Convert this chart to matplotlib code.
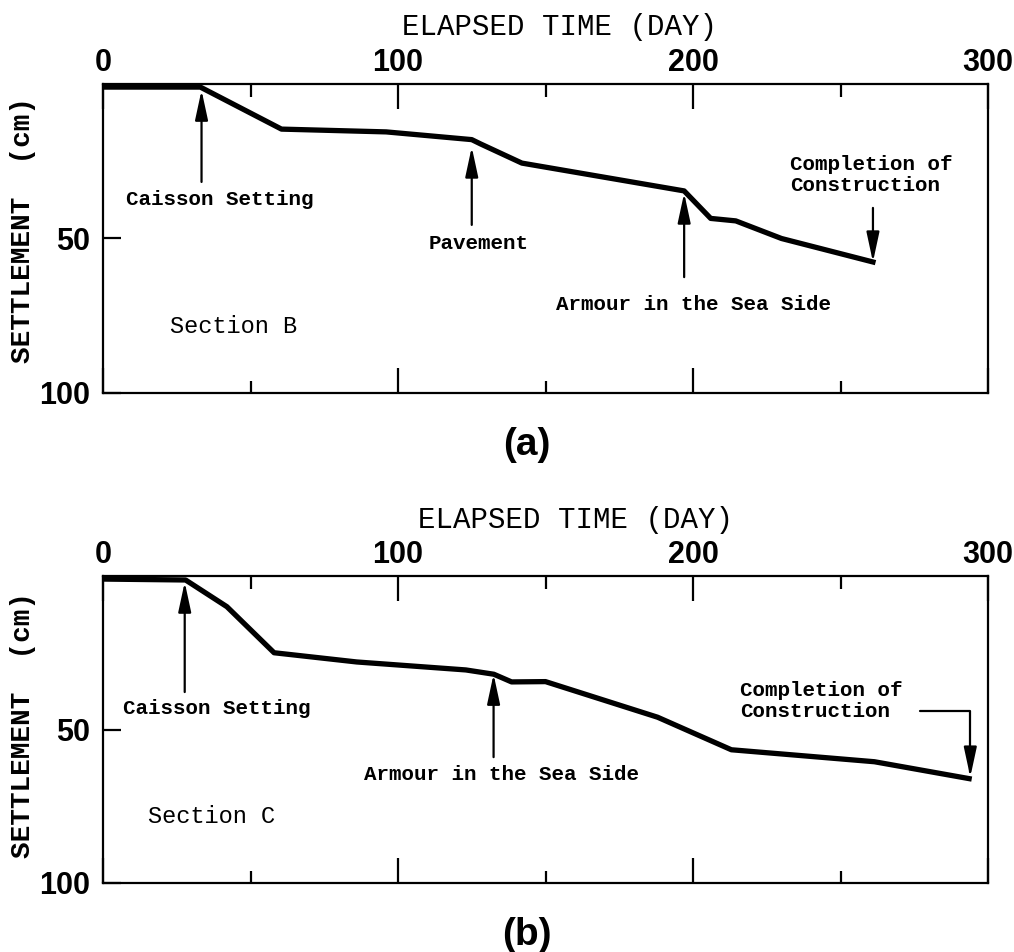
"""
Settlement vs elapsed time, sections B and C.
"""

import matplotlib
matplotlib.use("Agg")
import matplotlib.pyplot as plt


# (a) Section B
days_a = [0, 33, 60.5, 96, 125, 128, 142, 197, 206, 214.5, 230, 261]
settle_a = [1, 1, 14.6, 15.5, 18, 19.4, 25.6, 34.6, 43.5, 44.3, 50, 57.6]

# (b) Section C
days_b = [0, 28, 42, 58, 86, 123, 132.5, 138.5, 150, 188, 213, 261.5, 293.6]
settle_b = [1, 1.3, 10, 25, 28, 30.6, 32, 34.5, 34.4, 46, 56.6, 60.5, 66]

x_ticks = [0, 100, 200, 300]
x_minor = [50, 150, 250]
y_ticks = [50, 100]

W, H = 1014, 952
MONO = "Liberation Mono"
SANS = "Liberation Sans"
TICKFONT = dict(fontfamily=SANS, fontweight="bold", fontsize=22)


def px(x, y):
    return x / W, 1 - y / H


def make_axes(fig, top, bottom):
    ax = fig.add_axes([103 / W, 1 - bottom / H, (988 - 103) / W, (bottom - top) / H])
    ax.set_xlim(0, 300)
    ax.set_ylim(100, 0)
    for s in ax.spines.values():
        s.set_linewidth(1.6)
    ax.set_xticks(x_ticks, labels=[str(v) for v in x_ticks], **TICKFONT)
    ax.set_xticks(x_minor, minor=True)
    ax.set_yticks(y_ticks, labels=[str(v) for v in y_ticks], **TICKFONT)
    ax.tick_params(axis="x", which="major", direction="in", top=True, bottom=True,
                   labeltop=True, labelbottom=False, length=18, width=1.6, pad=4)
    ax.tick_params(axis="x", which="minor", direction="in", top=True, bottom=True,
                   length=9, width=1.6)
    ax.tick_params(axis="y", direction="in", left=True, right=False, length=13,
                   width=1.6, pad=9)
    return ax


def arrow(ax, x, y_tail, y_tip):
    ax.annotate("", xy=(x, y_tip), xytext=(x, y_tail),
                arrowprops=dict(arrowstyle="-|>,head_length=1.3,head_width=0.28",
                                color="black", lw=1.6, mutation_scale=14,
                                shrinkA=0, shrinkB=0))


def note(ax, x, y, s, size=15, weight="bold"):
    ax.text(x, y, s, ha="left", va="center", fontfamily=MONO, fontweight=weight,
            fontsize=size, linespacing=1.15)


fig = plt.figure(figsize=(W / 100, H / 100), dpi=100)

# ---- panel (a)
ax1 = make_axes(fig, 84, 393)
ax1.plot(days_a, settle_a, color="black", lw=3.8, solid_joinstyle="round")
arrow(ax1, 33.4, 31.7, 2)
arrow(ax1, 125, 45.6, 20.4)
arrow(ax1, 197, 62.5, 35.3)
arrow(ax1, 261, 40.1, 57.6)
note(ax1, 7.8, 37.5, "Caisson Setting")
note(ax1, 110.5, 51.5, "Pavement")
note(ax1, 153.4, 71.5, "Armour in the Sea Side")
note(ax1, 232.8, 29.5, "Completion of\nConstruction")
note(ax1, 22.6, 78.6, "Section B", size=17, weight="normal")

fig.text(*px(560, 27), "ELAPSED TIME (DAY)", ha="center", va="center",
         fontfamily=MONO, fontsize=21)
fig.text(*px(23, 230), "SETTLEMENT  (cm)", ha="center", va="center", rotation=90,
         fontfamily=MONO, fontweight="bold", fontsize=20)
fig.text(*px(527, 445), "(a)", ha="center", va="center", fontfamily=SANS,
         fontweight="bold", fontsize=28)

# ---- panel (b)
ax2 = make_axes(fig, 576, 883)
ax2.plot(days_b, settle_b, color="black", lw=3.8, solid_joinstyle="round")
arrow(ax2, 27.7, 37.8, 2)
arrow(ax2, 132.4, 59, 32)
ax2.annotate("", xy=(294, 65.5), xytext=(277, 44),
             arrowprops=dict(arrowstyle="-|>,head_length=1.3,head_width=0.28",
                             color="black", lw=1.6, mutation_scale=14,
                             shrinkA=0, shrinkB=0,
                             connectionstyle="angle,angleA=0,angleB=90,rad=0"))
note(ax2, 6.8, 43, "Caisson Setting")
note(ax2, 88.5, 64.8, "Armour in the Sea Side")
note(ax2, 216, 40.7, "Completion of\nConstruction")
note(ax2, 15.2, 78.5, "Section C", size=17, weight="normal")

fig.text(*px(576, 520), "ELAPSED TIME (DAY)", ha="center", va="center",
         fontfamily=MONO, fontsize=21)
fig.text(*px(23, 725), "SETTLEMENT  (cm)", ha="center", va="center", rotation=90,
         fontfamily=MONO, fontweight="bold", fontsize=20)
fig.text(*px(527, 935), "(b)", ha="center", va="center", fontfamily=SANS,
         fontweight="bold", fontsize=28)

fig.savefig("out.png", dpi=100)
